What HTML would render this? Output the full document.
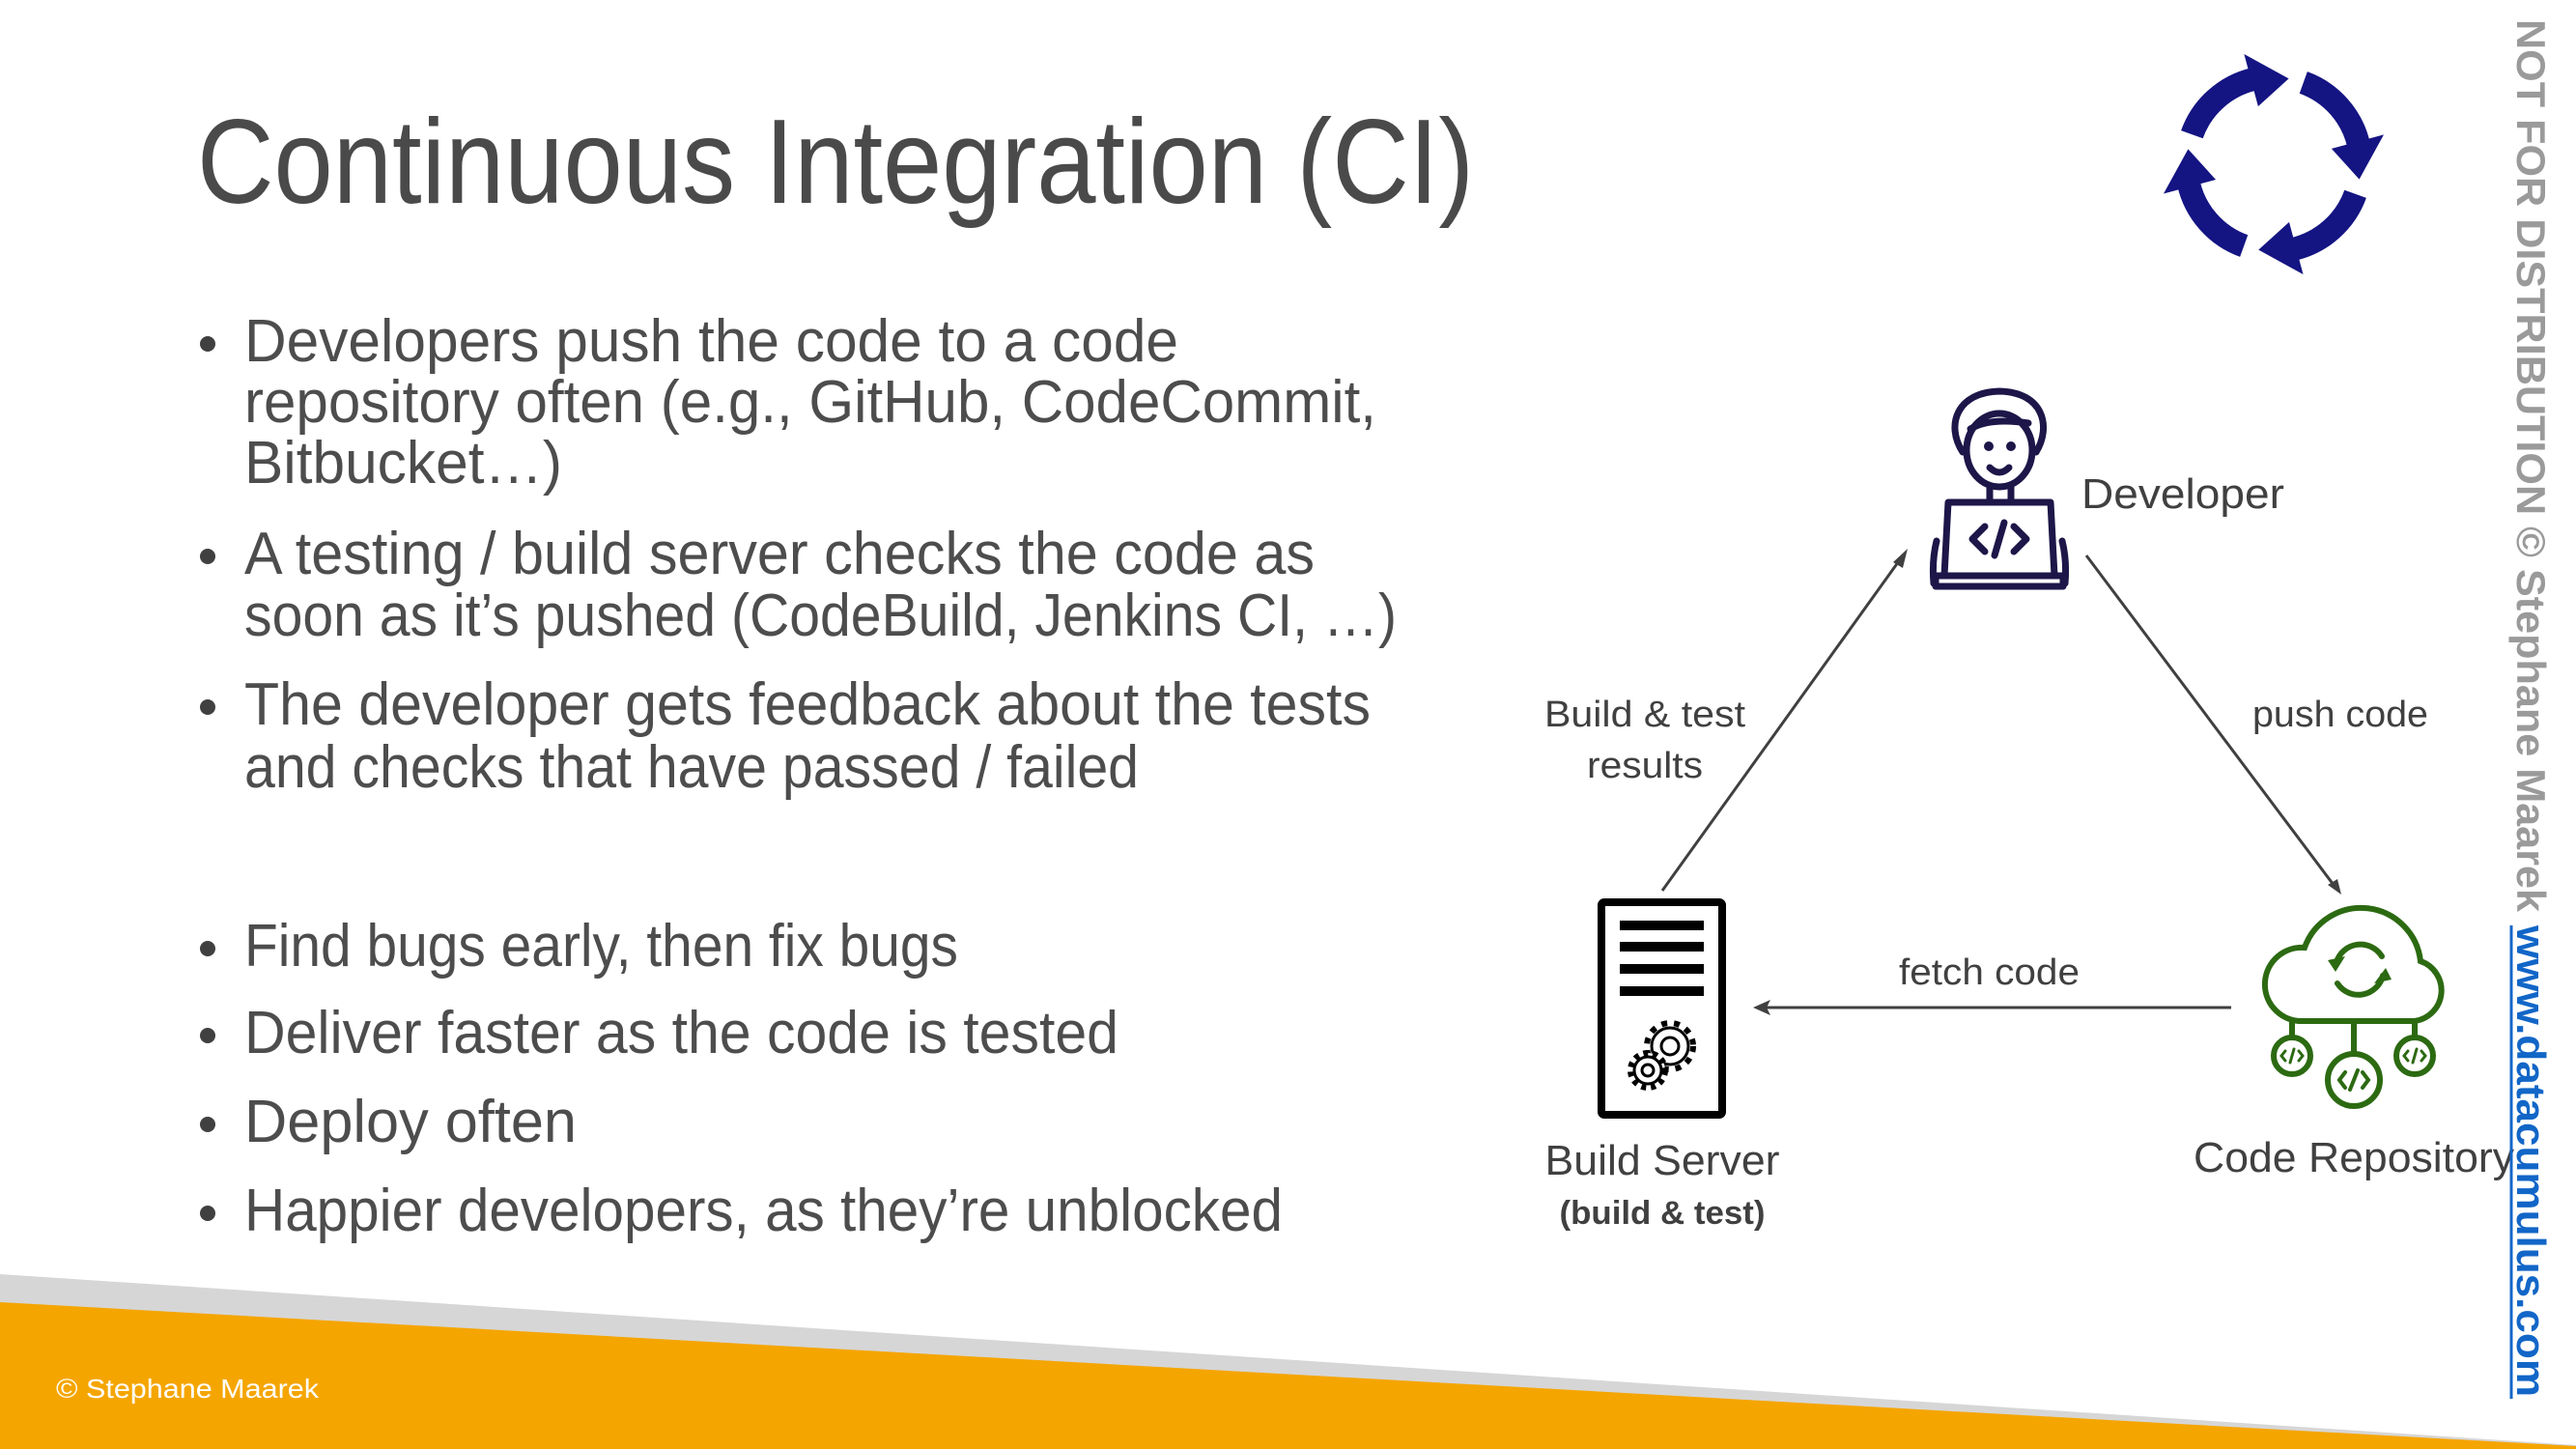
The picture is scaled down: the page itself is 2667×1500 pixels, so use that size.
<!DOCTYPE html>
<html><head><meta charset="utf-8"><style>
html,body{margin:0;padding:0;background:#fff;}
svg{display:block;}
</style></head><body>
<svg width="2667" height="1500" viewBox="0 0 2667 1500" xmlns="http://www.w3.org/2000/svg">
<rect width="2667" height="1500" fill="#fff"/>
<!-- footer -->
<polygon points="0,1319 2667,1496 2667,1500 0,1500" fill="#d6d6d6"/>
<polygon points="0,1348 2667,1497 2667,1500 0,1500" fill="#f5a500"/>
<text x="58" y="1447" font-family="Liberation Sans, sans-serif" font-size="28" fill="#fff" textLength="272" lengthAdjust="spacingAndGlyphs">© Stephane Maarek</text>

<!-- title -->
<text x="204" y="210" font-family="Liberation Sans, sans-serif" font-size="124" fill="#4a4a4a" textLength="1322" lengthAdjust="spacingAndGlyphs">Continuous Integration (CI)</text>

<!-- bullets -->
<g font-family="Liberation Sans, sans-serif" font-size="62" fill="#4d4d4d">
<text x="253" y="374" textLength="967" lengthAdjust="spacingAndGlyphs">Developers push the code to a code</text>
<text x="253" y="437" textLength="1172" lengthAdjust="spacingAndGlyphs">repository often (e.g., GitHub, CodeCommit,</text>
<text x="253" y="500" textLength="329" lengthAdjust="spacingAndGlyphs">Bitbucket…)</text>
<text x="253" y="594" textLength="1108" lengthAdjust="spacingAndGlyphs">A testing / build server checks the code as</text>
<text x="253" y="658" textLength="1193" lengthAdjust="spacingAndGlyphs">soon as it’s pushed (CodeBuild, Jenkins CI, …)</text>
<text x="253" y="750" textLength="1166" lengthAdjust="spacingAndGlyphs">The developer gets feedback about the tests</text>
<text x="253" y="815" textLength="926" lengthAdjust="spacingAndGlyphs">and checks that have passed / failed</text>
<text x="253" y="1000" textLength="739" lengthAdjust="spacingAndGlyphs">Find bugs early, then fix bugs</text>
<text x="253" y="1090" textLength="905" lengthAdjust="spacingAndGlyphs">Deliver faster as the code is tested</text>
<text x="253" y="1182" textLength="344" lengthAdjust="spacingAndGlyphs">Deploy often</text>
<text x="253" y="1274" textLength="1075" lengthAdjust="spacingAndGlyphs">Happier developers, as they’re unblocked</text>
</g>
<g fill="#404040">
<circle cx="215" cy="356" r="8"/><circle cx="215" cy="576" r="8"/><circle cx="215" cy="732" r="8"/>
<circle cx="215" cy="982" r="8"/><circle cx="215" cy="1072" r="8"/><circle cx="215" cy="1164" r="8"/><circle cx="215" cy="1256" r="8"/>
</g>

<!-- cycle icon -->
<g fill="none" stroke="#141483" stroke-width="24">
<path d="M2269.4,139.2 A90 90 0 0 1 2333,82"/>
<path d="M2384.8,85.4 A90 90 0 0 1 2442,150"/>
<path d="M2438.6,200.8 A90 90 0 0 1 2374,258"/>
<path d="M2323.2,254.6 A90 90 0 0 1 2266,190"/>
</g>
<g fill="#141483">
<polygon points="2337.9,110.1 2323.4,56.0 2369.6,81.4"/>
<polygon points="2413.9,153.9 2468.0,139.4 2442.6,185.6"/>
<polygon points="2370.0,229.9 2384.5,284.0 2338.3,258.6"/>
<polygon points="2294.1,186.0 2240.0,200.5 2265.4,154.4"/>
</g>

<!-- developer icon -->
<g fill="none" stroke="#1d1648" stroke-width="7" stroke-linejoin="round" stroke-linecap="round">
<path d="M2032,468 C2014,440 2026,406 2070,405 C2116,406 2124,442 2108,468"/>
<path d="M2040,444 Q2060,432 2100,438"/>
<ellipse cx="2070" cy="466" rx="34" ry="38"/>
<path d="M2060,503 L2060,518 M2082,503 L2082,518"/>
<path d="M2060,484 Q2070,494 2080,484"/>
<path d="M2017,520 L2123,520 L2127,596 L2013,596 Z"/>
<path d="M2005,560 Q2000,580 2002,604 M2135,560 Q2140,580 2138,604"/>
<path d="M2004,596 L2136,596 L2136,607 L2004,607 Z"/>
<path d="M2055,545 L2042,558 L2055,571 M2085,545 L2098,558 L2085,571 M2075,541 L2065,575"/>
</g>
<g fill="#1d1648"><circle cx="2059" cy="462" r="5"/><circle cx="2082" cy="462" r="5"/></g>
<text x="2155" y="526" font-family="Liberation Sans, sans-serif" font-size="44" fill="#404040" textLength="210" lengthAdjust="spacingAndGlyphs">Developer</text>

<!-- connectors -->
<g stroke="#404040" stroke-width="3" fill="none">
<line x1="1721" y1="922" x2="1968" y2="578"/>
<line x1="2160" y1="575" x2="2416" y2="916"/>
<line x1="2310" y1="1043" x2="1828" y2="1043"/>
</g>
<g fill="#404040">
<polygon points="1975,568 1960,582 1970,588"/>
<polygon points="2424,926 2410,916 2420,910"/>
<polygon points="1815,1043 1833,1035 1829,1043 1833,1051"/>
</g>
<g font-family="Liberation Sans, sans-serif" font-size="38" fill="#404040">
<text x="1703" y="752" text-anchor="middle" textLength="208" lengthAdjust="spacingAndGlyphs">Build &amp; test</text>
<text x="1703" y="805" text-anchor="middle" textLength="120" lengthAdjust="spacingAndGlyphs">results</text>
<text x="2332" y="752" textLength="182" lengthAdjust="spacingAndGlyphs">push code</text>
<text x="1966" y="1019" textLength="187" lengthAdjust="spacingAndGlyphs">fetch code</text>
</g>

<!-- build server -->
<rect x="1658" y="934" width="125" height="220" rx="3" fill="none" stroke="#000" stroke-width="8"/>
<g fill="#000">
<rect x="1677" y="953" width="87" height="10"/><rect x="1677" y="975" width="87" height="10"/>
<rect x="1677" y="998" width="87" height="10"/><rect x="1677" y="1021" width="87" height="10"/>
</g>
<g fill="none" stroke="#000">
<circle cx="1729" cy="1083" r="24" stroke-width="6" stroke-dasharray="6 7"/>
<circle cx="1729" cy="1083" r="19" stroke-width="3" fill="#fff"/>
<circle cx="1729" cy="1083" r="9" stroke-width="3"/>
<circle cx="1706" cy="1108" r="18" stroke-width="6" stroke-dasharray="5 5" fill="#fff"/>
<circle cx="1706" cy="1108" r="14" stroke-width="3" fill="#fff"/>
<circle cx="1706" cy="1108" r="6" stroke-width="3"/>
</g>
<text x="1721" y="1216" text-anchor="middle" font-family="Liberation Sans, sans-serif" font-size="44" fill="#404040" textLength="243" lengthAdjust="spacingAndGlyphs">Build Server</text>
<text x="1721" y="1267" text-anchor="middle" font-family="Liberation Sans, sans-serif" font-weight="bold" font-size="34" fill="#404040" textLength="213" lengthAdjust="spacingAndGlyphs">(build &amp; test)</text>

<!-- code repo -->
<g fill="none" stroke="#2c6a12" stroke-width="6" stroke-linecap="round">
<path d="M2380,1057 A38 38 0 0 1 2386,981 A62 62 0 0 1 2506,995 A32 32 0 0 1 2500,1057 Z"/>
<path d="M2373,1057 V1074 M2437,1057 V1091 M2500,1057 V1074"/>
<circle cx="2373" cy="1093" r="19"/>
<circle cx="2437" cy="1118" r="27"/>
<circle cx="2500" cy="1093" r="19"/>
<path d="M2419,996 A26 26 0 0 1 2466,990"/>
<path d="M2467,1010 A26 26 0 0 1 2420,1018"/>
<path d="M2366,1088 L2362,1093 L2366,1098 M2380,1088 L2384,1093 L2380,1098 M2375,1086 L2371,1100" stroke-width="3"/>
<path d="M2493,1088 L2489,1093 L2493,1098 M2507,1088 L2511,1093 L2507,1098 M2502,1086 L2498,1100" stroke-width="3"/>
<path d="M2428,1110 L2422,1118 L2428,1126 M2446,1110 L2452,1118 L2446,1126 M2441,1108 L2433,1128" stroke-width="4"/>
</g>
<g fill="#2c6a12"><polygon points="2410,994 2428,990 2418,1006"/><polygon points="2476,1014 2458,1018 2470,1002"/></g>
<text x="2271" y="1213" font-family="Liberation Sans, sans-serif" font-size="44" fill="#404040" textLength="332" lengthAdjust="spacingAndGlyphs">Code Repository</text>

<!-- watermark -->
<g transform="translate(2606,20) rotate(90)">
<text x="0" y="0" font-family="Liberation Sans, sans-serif" font-weight="bold" font-size="42" fill="#9a9a9a" textLength="924" lengthAdjust="spacingAndGlyphs">NOT FOR DISTRIBUTION © Stephane Maarek</text>
<text x="938" y="0" font-family="Liberation Sans, sans-serif" font-weight="bold" font-size="42" fill="#1266c7" textLength="488" lengthAdjust="spacingAndGlyphs">www.datacumulus.com</text>
</g>
<line x1="2600" y1="958" x2="2600" y2="1448" stroke="#1266c7" stroke-width="3"/>
</svg>
</body></html>
